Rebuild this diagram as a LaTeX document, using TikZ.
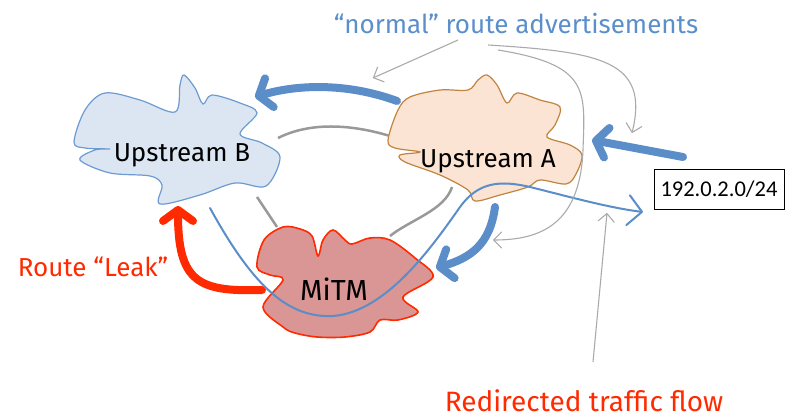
\documentclass[tikz,border=0pt]{standalone}
\usepackage{fontspec}
\setmainfont{Fira Sans}
\newfontfamily\boxfont{Carlito}
\usetikzlibrary{arrows.meta}
\definecolor{bfill}{HTML}{DCE6F2}
\definecolor{bedge}{HTML}{6C9BD2}
\definecolor{afill}{HTML}{FBE4D3}
\definecolor{aedge}{HTML}{C0843F}
\definecolor{mfill}{HTML}{D99694}
\definecolor{redc}{HTML}{FF2A00}
\definecolor{bluec}{HTML}{5B8DC8}
\definecolor{linkgray}{HTML}{999999}
\definecolor{thingray}{HTML}{AAAAAA}
\definecolor{labelblue}{HTML}{5B8FCC}
\tikzset{
  cloudB/.style={draw=bedge, fill=bfill, line width=1.2pt},
  cloudA/.style={draw=aedge, fill=afill, line width=1.2pt},
  cloudM/.style={draw=redc, fill=mfill, line width=1.6pt},
  link/.style={draw=linkgray, line width=2.5pt},
  bigblue/.style={draw=bluec, line width=8pt, line cap=round, -{Straight Barb[length=11pt,width=30pt,round]}},
  bigred/.style={draw=redc, line width=8pt, line cap=round, -{Straight Barb[length=11pt,width=30pt,round]}},
  traffic/.style={draw=bluec, line width=2pt, line cap=round, -{Straight Barb[length=14pt,width=30pt,round]}},
  callout/.style={draw=thingray, line width=1.1pt, -{Straight Barb[length=8pt,width=16pt,round]}},
  cloudlabel/.style={font=\fontsize{26}{30}\selectfont, text=black},
}
\begin{document}
\begin{tikzpicture}[x=1pt,y=-1pt]
\useasboundingbox (0,0) rectangle (785,419);
% named coordinates
\coordinate (bA) at (278,138);
\coordinate (aB) at (390,136);
\coordinate (bM) at (257,197);
\coordinate (mB) at (277,227);
\coordinate (aM) at (452,187);
\coordinate (mA) at (390,236);
% gray links
\draw[link] (bA) .. controls (310,122) and (350,124) .. (aB);
\draw[link] (bM) -- (mB);
\draw[link] (aM) .. controls (445,210) and (410,220) .. (mA);
% clouds
\draw[cloudB] plot[smooth cycle, tension=0.55] coordinates {
 (74,142) (85,110) (105,93) (140,100) (175,112) (180,85) (184,75) (195,88) (203,104) (212,95) (240,103) (257,113) (240,134) (262,143) (280,157) (266,186) (235,183) (200,195) (160,204) (162,185) (150,176) (110,173) (80,160) (95,150) (110,149) (85,148)};
\draw[cloudA] plot[smooth cycle, tension=0.55] coordinates {
 (388,140) (398,110) (410,97) (440,90) (468,90) (478,80) (487,75) (497,85) (507,103) (517,93) (540,100) (560,107) (555,125) (547,137) (570,145) (582,155) (576,174) (566,184) (540,180) (528,187) (500,195) (475,201) (468,190) (440,175) (405,162) (400,155) (420,152) (395,148)};
\draw[cloudM] plot[smooth cycle, tension=0.55] coordinates {
 (257,267) (264,240) (283,227) (300,229) (312,236) (318,256) (323,240) (333,230) (345,240) (352,244) (370,238) (390,240) (415,258) (433,277) (403,297) (418,312) (398,320) (380,320) (370,332) (345,337) (317,337) (295,333) (283,327) (263,307) (283,280) (270,275)};
% labels in clouds
\node[cloudlabel] (B) at (182,155) {Upstream B};
\node[cloudlabel] (A) at (488,161) {Upstream A};
\node[cloudlabel, font=\fontsize{29}{32}\selectfont] (M) at (334,289) {MiTM};
% prefix box
\node[draw=black, line width=0.8pt, minimum width=130pt, minimum height=40pt, inner sep=0pt, font=\boxfont\fontsize{22.5}{26}\selectfont] (P) at (719,189) {192.0.2.0/24};
% arrow coordinates
\coordinate (advStart) at (683,157);
\coordinate (advEnd) at (592,140);
\coordinate (abStart) at (397,101);
\coordinate (abEnd) at (255,97);
\coordinate (amStart) at (495,207);
\coordinate (amEnd) at (436,268);
\coordinate (mbStart) at (262,290);
\coordinate (mbEnd) at (178,206);
% thick arrows
\draw[bigblue] (advStart) -- (advEnd);
\draw[bigblue] (abStart) .. controls (345,82) and (295,85) .. (abEnd);
\draw[bigblue] (amStart) .. controls (490,245) and (470,258) .. (amEnd);
\draw[bigred] (mbStart) .. controls (198,292) and (178,282) .. (mbEnd);
% traffic flow
\coordinate (tStart) at (210,208);
\coordinate (tEnd) at (643,212);
\draw[traffic] (tStart) .. controls (255,290) and (290,318) .. (333,316) .. controls (385,312) and (430,250) .. (460,207) .. controls (478,182) and (500,180) .. (530,187) .. controls (570,197) and (610,208) .. (tEnd);
% text labels
\node[text=labelblue, font=\fontsize{26}{30}\selectfont] (N) at (516,24) {“normal” route advertisements};
\node[text=redc, font=\fontsize{26}{30}\selectfont] (L) at (93,267) {Route “Leak”};
\node[text=redc, font=\fontsize{28}{32}\selectfont] (R) at (584,401) {Redirected traffic flow};
% callouts
\coordinate (c1s) at (458,40);
\coordinate (c1e) at (373,78);
\coordinate (c2s) at (488,45);
\coordinate (c2e) at (632,133);
\coordinate (c3s) at (498,50);
\coordinate (c3e) at (493,240);
\coordinate (c4s) at (593,362);
\coordinate (c4e) at (607,213);
\draw[callout] (c1s) -- (c1e);
\draw[callout] (c2s) .. controls (600,52) and (650,60) .. (c2e);
\draw[callout] (c3s) .. controls (590,65) and (585,90) .. (583,150) .. controls (580,225) and (540,240) .. (c3e);
\draw[callout] (c4s) -- (c4e);
\end{tikzpicture}
\end{document}
